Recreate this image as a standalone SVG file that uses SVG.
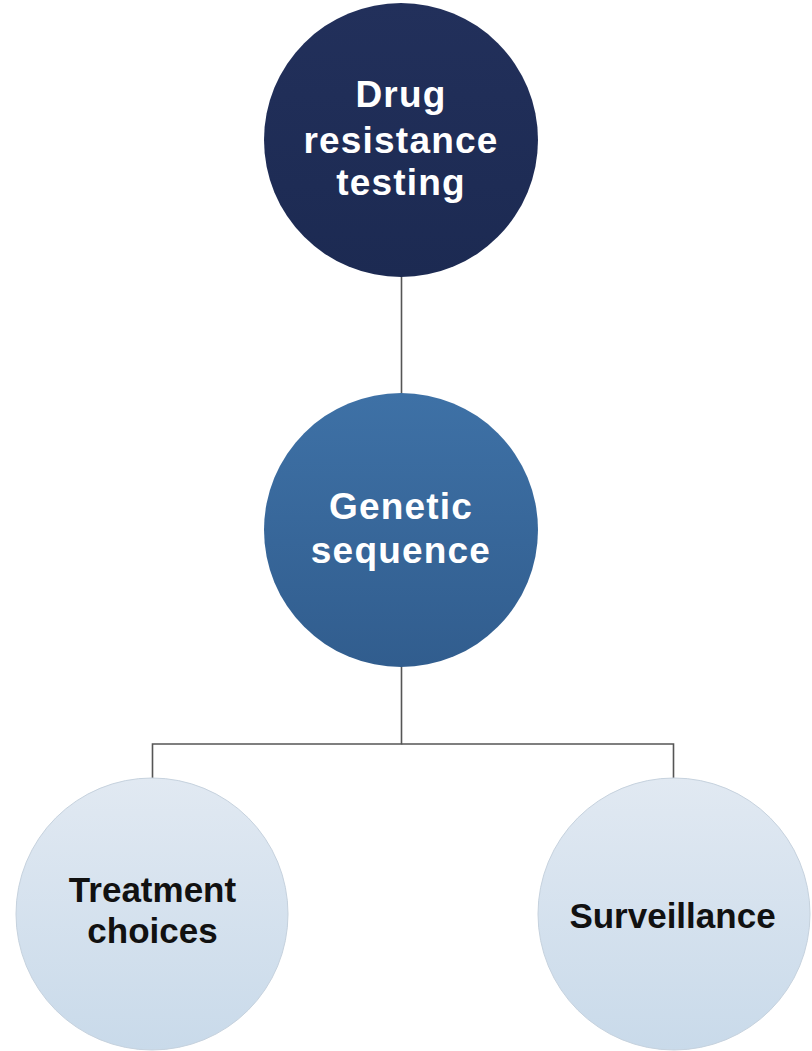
<svg xmlns="http://www.w3.org/2000/svg" width="812" height="1051" viewBox="0 0 812 1051">
  <defs>
    <linearGradient id="gTop" x1="0" y1="0" x2="0" y2="1">
      <stop offset="0" stop-color="#22305b"/>
      <stop offset="1" stop-color="#1c2a52"/>
    </linearGradient>
    <linearGradient id="gMid" x1="0" y1="0" x2="0" y2="1">
      <stop offset="0" stop-color="#3e71a6"/>
      <stop offset="1" stop-color="#315d8e"/>
    </linearGradient>
    <linearGradient id="gLow" x1="0" y1="0" x2="0" y2="1">
      <stop offset="0" stop-color="#e1e9f2"/>
      <stop offset="1" stop-color="#c9daea"/>
    </linearGradient>
  </defs>
  <style>
    .lbl { font-family: "Liberation Sans", Arial, sans-serif; font-weight: bold; text-anchor: middle; }
    .light { fill: #ffffff; font-size: 37px; letter-spacing: 1.2px; }
    .dark { fill: #111111; font-size: 35px; }
    .conn { stroke: #555555; stroke-width: 1.6; fill: none; }
  </style>
  <rect width="812" height="1051" fill="#ffffff"/>
  <g id="connectors">
    <line class="conn" x1="401.5" y1="276" x2="401.5" y2="394"/>
    <polyline class="conn" points="401.5,666 401.5,744 152.5,744 152.5,780"/>
    <polyline class="conn" points="401.5,744 673.5,744 673.5,780"/>
  </g>
  <g id="node-drug-resistance-testing">
    <circle cx="401" cy="140" r="137" fill="url(#gTop)"/>
    <text class="lbl light" x="401" y="107">Drug</text>
    <text class="lbl light" x="401" y="153">resistance</text>
    <text class="lbl light" x="401" y="195">testing</text>
  </g>
  <g id="node-genetic-sequence">
    <circle cx="401" cy="530" r="137" fill="url(#gMid)"/>
    <text class="lbl light" x="401" y="519">Genetic</text>
    <text class="lbl light" x="401" y="563">sequence</text>
  </g>
  <g id="node-treatment-choices">
    <circle cx="152" cy="914" r="136" fill="url(#gLow)" stroke="#c6d2de" stroke-width="1"/>
    <text class="lbl dark" x="152.5" y="902">Treatment</text>
    <text class="lbl dark" x="152.5" y="943">choices</text>
  </g>
  <g id="node-surveillance">
    <circle cx="674" cy="914" r="136" fill="url(#gLow)" stroke="#c6d2de" stroke-width="1"/>
    <text class="lbl dark" x="672.5" y="928">Surveillance</text>
  </g>
</svg>
